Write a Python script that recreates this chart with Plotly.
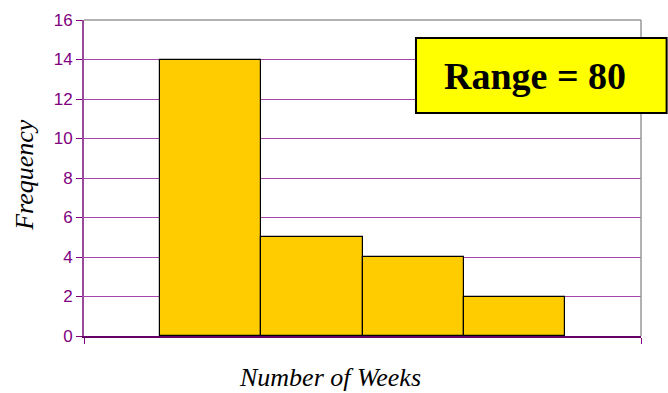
import plotly.graph_objects as go

# Histogram of weeks: class positions and frequencies
bins = [0, 1, 2, 3]
frequency = [14, 5, 4, 2]
y_ticks = [0, 2, 4, 6, 8, 10, 12, 14, 16]
x_range = [-1.25, 4.25]

purple = "#800080"

fig = go.Figure()
fig.add_trace(go.Bar(
    x=bins, y=frequency, width=1.0,
    marker=dict(color="#FFCC00", line=dict(color="#000000", width=1.2)),
    hoverinfo="skip",
))

serif_italic = dict(family="Liberation Serif", size=26, color="black")

fig.update_layout(
    width=668, height=393,
    margin=dict(l=84, r=27, t=20, b=57),
    plot_bgcolor="white", paper_bgcolor="white",
    showlegend=False,
    bargap=0,
    xaxis=dict(
        range=x_range, tickvals=x_range, ticktext=["", ""],
        ticks="outside", ticklen=6, tickcolor=purple,
        showgrid=False, zeroline=False, automargin=False,
        showline=True, linecolor="#660066", linewidth=2,
    ),
    yaxis=dict(
        range=[0, 16], tickvals=y_ticks,
        ticks="outside", ticklen=6, tickcolor=purple,
        tickfont=dict(family="Liberation Sans", size=17, color=purple),
        showgrid=True, gridcolor="#A845A8", gridwidth=1,
        zeroline=False, automargin=False,
        showline=True, linecolor="#9A4A9A", linewidth=2,
    ),
    shapes=[
        dict(type="line", xref="paper", yref="paper", x0=0, x1=1, y0=1, y1=1,
             line=dict(color="#999999", width=1.5), layer="above"),
        dict(type="line", xref="paper", yref="paper", x0=1, x1=1, y0=0, y1=1,
             line=dict(color="#999999", width=1.5), layer="above"),
        # yellow call-out box
        dict(type="rect", xref="paper", yref="paper",
             x0=0.596, x1=1.046, y0=0.706, y1=0.943,
             fillcolor="#FFFF00", line=dict(color="black", width=2),
             layer="above"),
    ],
    annotations=[
        dict(text="<b>Range = 80</b>", xref="paper", yref="paper",
             x=0.81, y=0.823, xanchor="center", yanchor="middle",
             showarrow=False,
             font=dict(family="Liberation Serif", size=38, color="black")),
        dict(text="<i>Number of Weeks</i>", xref="paper", yref="paper",
             x=0.442, y=0, xanchor="center", yanchor="middle", yshift=-41,
             showarrow=False, font=serif_italic),
        dict(text="<i>Frequency</i>", xref="paper", yref="paper",
             x=0, y=0.51, xanchor="center", yanchor="middle", xshift=-59,
             textangle=-90, showarrow=False, font=serif_italic),
    ],
)

fig.write_html("out.html")
